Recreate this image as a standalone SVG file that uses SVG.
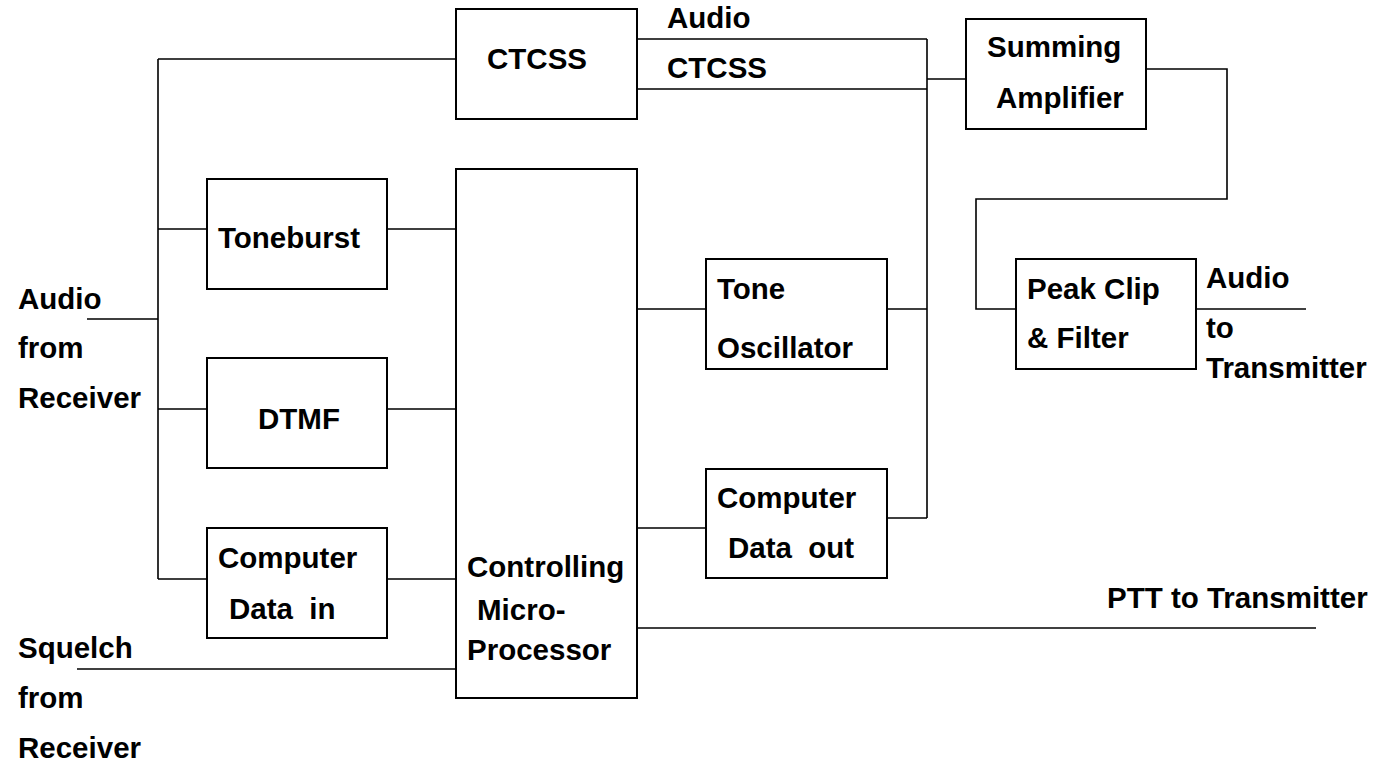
<svg xmlns="http://www.w3.org/2000/svg" width="1378" height="763" viewBox="0 0 1378 763">
<style>
.box{fill:#fff;stroke:#000;stroke-width:2}
.ln{fill:none;stroke:#000;stroke-width:1.6}
text{font-family:"Liberation Sans",Arial,sans-serif;font-weight:bold;font-size:29.5px;fill:#000;white-space:pre}
</style>
<rect width="1378" height="763" fill="#fff"/>
<g id="connectors">
<path class="ln" d="M158,59 H456 M158,59 V579 M87,319 H158"/>
<path class="ln" d="M158,229 H207 M387,229 H456"/>
<path class="ln" d="M158,409 H207 M387,409 H456"/>
<path class="ln" d="M158,579 H207 M387,579 H456"/>
<path class="ln" d="M77,669 H456"/>
<path class="ln" d="M637,39 H927 M637,89 H927 M927,39 V518 M927,79 H966"/>
<path class="ln" d="M1146,69 H1227 V199 H976 V309 H1016"/>
<path class="ln" d="M1196,309 H1306"/>
<path class="ln" d="M637,309 H706 M887,309 H927"/>
<path class="ln" d="M637,528 H706 M887,518 H927"/>
<path class="ln" d="M637,628 H1316"/>
</g>
<g id="ctcss"><rect class="box" x="456" y="9" width="181" height="110"/><text x="487" y="69">CTCSS</text></g>
<g id="micro"><rect class="box" x="456" y="169" width="181" height="529"/><text x="467" y="577">Controlling</text><text x="477" y="620">Micro-</text><text x="467" y="660">Processor</text></g>
<g id="toneburst"><rect class="box" x="207" y="179" width="180" height="110"/><text x="218" y="248">Toneburst</text></g>
<g id="dtmf"><rect class="box" x="207" y="358" width="180" height="110"/><text x="258" y="429">DTMF</text></g>
<g id="datain"><rect class="box" x="207" y="528" width="180" height="110"/><text x="218" y="568">Computer</text><text x="229" y="619">Data  in</text></g>
<g id="toneosc"><rect class="box" x="706" y="259" width="181" height="110"/><text x="717" y="299">Tone</text><text x="717" y="358">Oscillator</text></g>
<g id="dataout"><rect class="box" x="706" y="469" width="181" height="109"/><text x="717" y="508">Computer</text><text x="728" y="558">Data  out</text></g>
<g id="summing"><rect class="box" x="966" y="19" width="180" height="110"/><text x="987" y="57">Summing</text><text x="996" y="108">Amplifier</text></g>
<g id="peakclip"><rect class="box" x="1016" y="259" width="180" height="110"/><text x="1027" y="299">Peak Clip</text><text x="1027" y="348">&amp; Filter</text></g>
<g id="labels">
<text x="667" y="28">Audio</text>
<text x="667" y="78">CTCSS</text>
<text x="1206" y="288">Audio</text>
<text x="1206" y="338">to</text>
<text x="1206" y="378">Transmitter</text>
<text x="18" y="309">Audio</text>
<text x="18" y="358">from</text>
<text x="18" y="408">Receiver</text>
<text x="18" y="658">Squelch</text>
<text x="18" y="708">from</text>
<text x="18" y="758">Receiver</text>
<text x="1107" y="608">PTT to Transmitter</text>
</g>
</svg>
